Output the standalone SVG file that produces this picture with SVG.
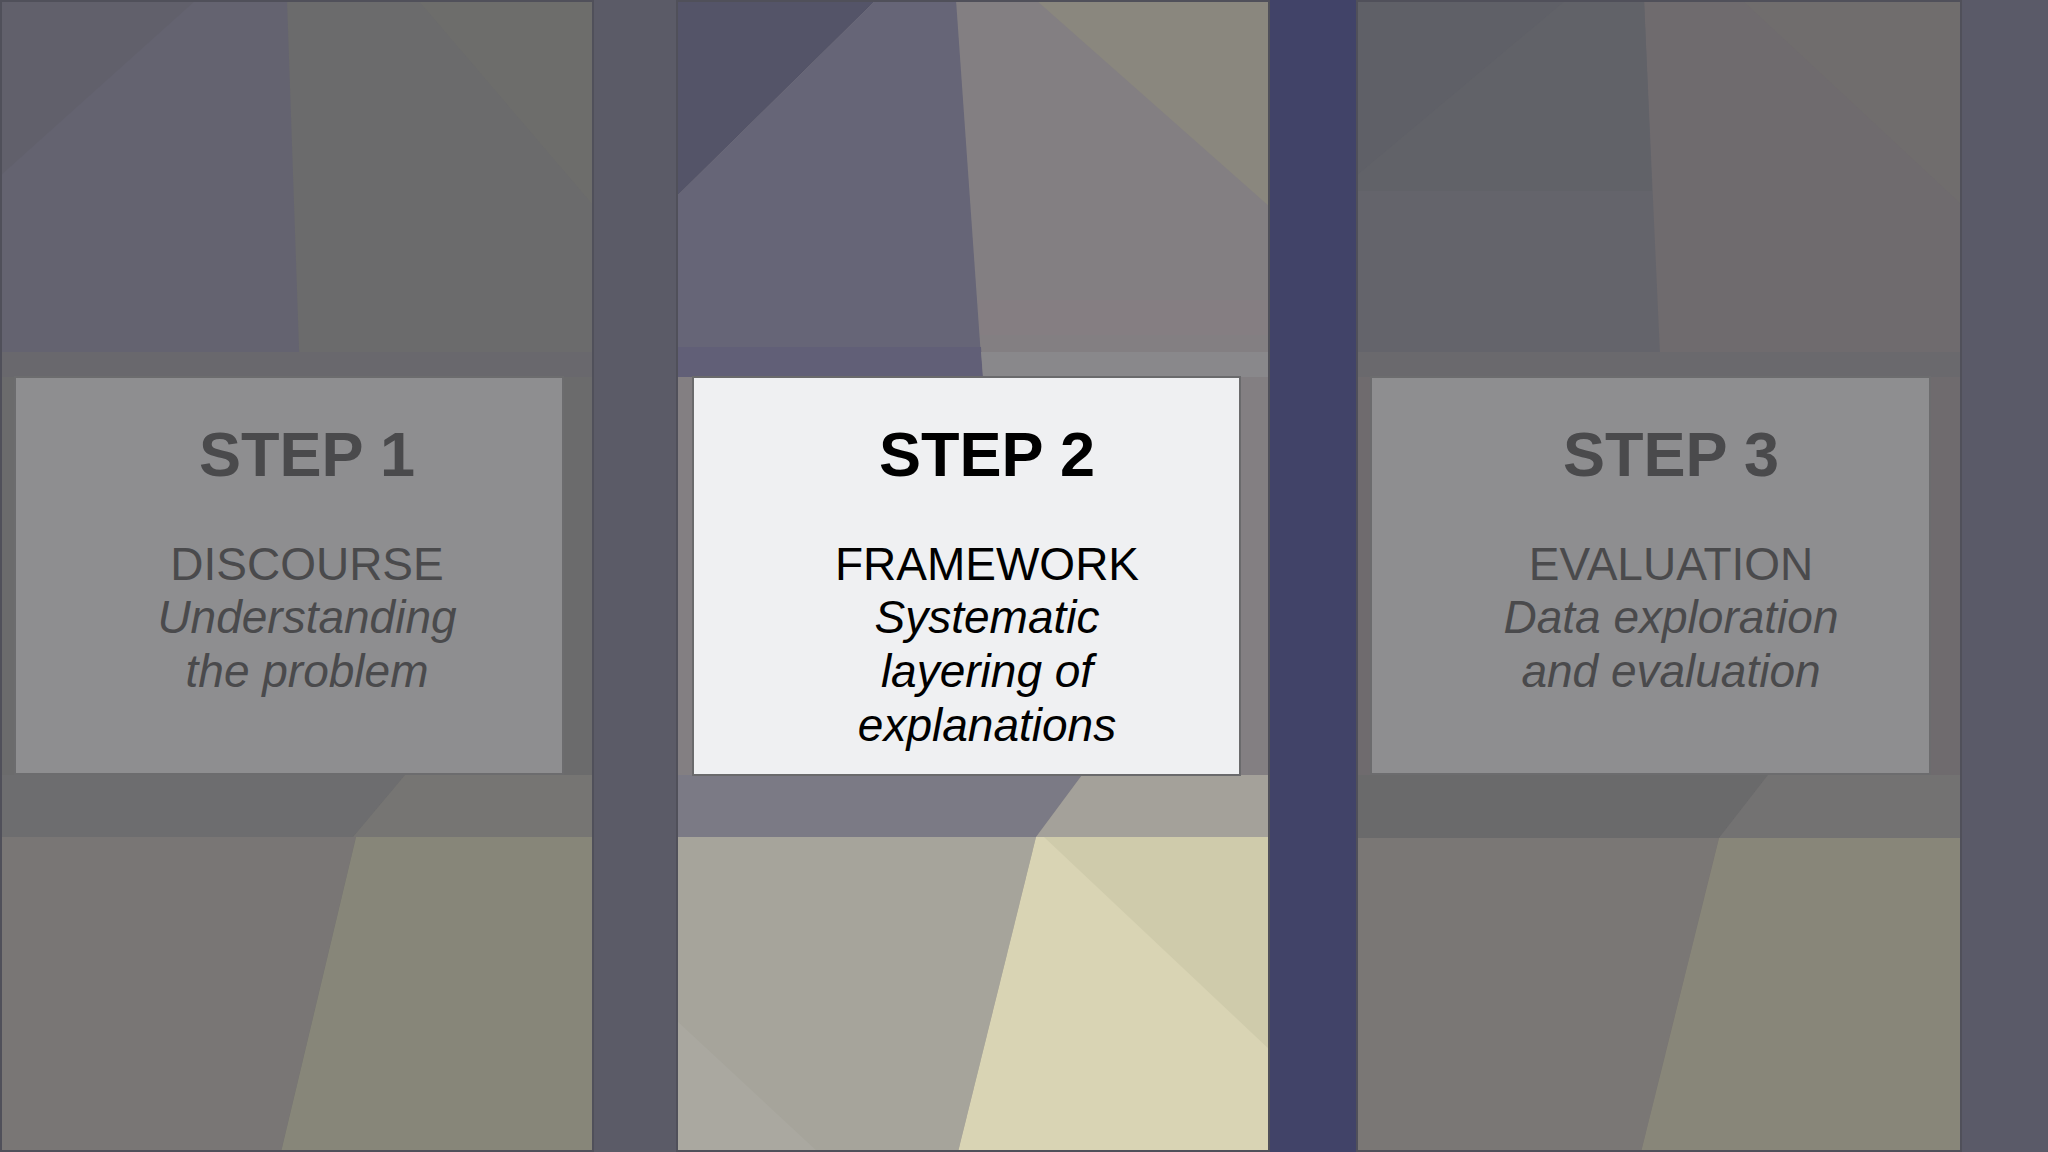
<svg xmlns="http://www.w3.org/2000/svg" width="2048" height="1152" viewBox="0 0 2048 1152">
  <style>
    .title { font-family: "Liberation Sans", Arial, sans-serif; font-weight: bold; font-size: 63px; text-anchor: middle; }
    .head { font-family: "Liberation Sans", Arial, sans-serif; font-size: 46px; text-anchor: middle; }
    .sub { font-family: "Liberation Sans", Arial, sans-serif; font-size: 46px; font-style: italic; text-anchor: middle; }
    .dim { fill: #4a4a4c; }
    .active { fill: #000000; }
    .boxdim { fill: #8e8e90; stroke: #6c6c6e; stroke-width: 2; }
    .boxactive { fill: #eff0f2; stroke: #6a6a6c; stroke-width: 2; }
    .edge { fill: none; stroke: #50505a; stroke-width: 2; }
  </style>

  <g id="background">
    <!-- strips -->
    <rect x="0" y="0" width="2048" height="1152" fill="#5b5b67"/>
    <rect x="1270" y="0" width="86" height="1152" fill="#414368"/>
    <rect x="1962" y="0" width="86" height="1152" fill="#5a5a68"/>

    <!-- panel 1 (dimmed) -->
    <rect x="0" y="0" width="593" height="1152" fill="#6b6b6c"/>
    <polygon points="0,0 287,0 300,377 0,377" fill="#646370"/>
    <polygon points="0,0 196,0 0,176" fill="#61606b"/>
    <polygon points="418,0 593,0 593,205" fill="#6d6d6b"/>
    <rect x="0" y="352" width="593" height="25" fill="#69686d"/>
    <polygon points="0,775 405,775 353,837 0,837" fill="#6d6d6f"/>
    <polygon points="405,775 593,775 593,837 353,837" fill="#767573"/>
    <polygon points="0,837 356,837 281,1152 0,1152" fill="#797675"/>
    <polygon points="356,837 593,837 593,1152 281,1152" fill="#878679"/>
    <rect x="1" y="1" width="592" height="1150" class="edge"/>

    <!-- panel 2 (active) -->
    <rect x="676" y="0" width="594" height="1152" fill="#837f82"/>
    <polygon points="676,0 876,0 676,197" fill="#545468"/>
    <polygon points="876,0 956,0 981,357 676,357 676,197" fill="#666577"/>
    <polygon points="1036,0 1270,0 1270,207" fill="#8a877e"/>
    <polygon points="978,300 1270,300 1270,335 980,335" fill="#857e82"/>
    <polygon points="677,347 981,347 983,377 677,377" fill="#615f77"/>
    <polygon points="981,352 1270,352 1270,377 983,377" fill="#89888b"/>
    <polygon points="676,775 1082,775 1036,837 676,837" fill="#7b7a85"/>
    <polygon points="1082,775 1270,775 1270,837 1036,837" fill="#a4a19a"/>
    <polygon points="676,837 1036,837 958,1152 676,1152" fill="#a6a49b"/>
    <polygon points="676,1020 818,1152 676,1152" fill="#aaa8a0"/>
    <polygon points="1036,837 1270,837 1270,1152 958,1152" fill="#d9d4b4"/>
    <polygon points="1044,837 1270,837 1270,1050" fill="#cfcbab"/>
    <rect x="677" y="1" width="592" height="1150" class="edge"/>

    <!-- panel 3 (dimmed) -->
    <rect x="1356" y="0" width="606" height="1152" fill="#6f6b6e"/>
    <polygon points="1356,0 1644,0 1661,377 1356,377" fill="#64646b"/>
    <polygon points="1356,0 1644,0 1652,191 1356,191" fill="#616268"/>
    <polygon points="1356,0 1566,0 1356,176" fill="#5f6067"/>
    <polygon points="1742,0 1962,0 1962,205" fill="#706d6d"/>
    <rect x="1356" y="352" width="606" height="25" fill="#6a696d"/>
    <polygon points="1356,775 1768,775 1719,838 1356,838" fill="#6a6a6b"/>
    <polygon points="1768,775 1962,775 1962,838 1719,838" fill="#737272"/>
    <polygon points="1356,838 1719,838 1641,1152 1356,1152" fill="#7a7775"/>
    <polygon points="1719,838 1962,838 1962,1152 1641,1152" fill="#888679"/>
    <rect x="1357" y="1" width="604" height="1150" class="edge"/>
  </g>

  <g id="connectors"/>

  <g id="step1">
    <rect x="15" y="377" width="548" height="397" class="boxdim"/>
    <text x="307" y="476" class="title dim">STEP 1</text>
    <text x="307" y="580" class="head dim">DISCOURSE</text>
    <text x="307" y="633" class="sub dim">Understanding</text>
    <text x="307" y="687" class="sub dim">the problem</text>
  </g>

  <g id="step2">
    <rect x="693" y="377" width="547" height="398" class="boxactive"/>
    <text x="987" y="476" class="title active">STEP 2</text>
    <text x="987" y="580" class="head active">FRAMEWORK</text>
    <text x="987" y="633" class="sub active">Systematic</text>
    <text x="987" y="687" class="sub active">layering of</text>
    <text x="987" y="741" class="sub active">explanations</text>
  </g>

  <g id="step3">
    <rect x="1371" y="377" width="559" height="397" class="boxdim"/>
    <text x="1671" y="476" class="title dim">STEP 3</text>
    <text x="1671" y="580" class="head dim">EVALUATION</text>
    <text x="1671" y="633" class="sub dim">Data exploration</text>
    <text x="1671" y="687" class="sub dim">and evaluation</text>
  </g>
</svg>
